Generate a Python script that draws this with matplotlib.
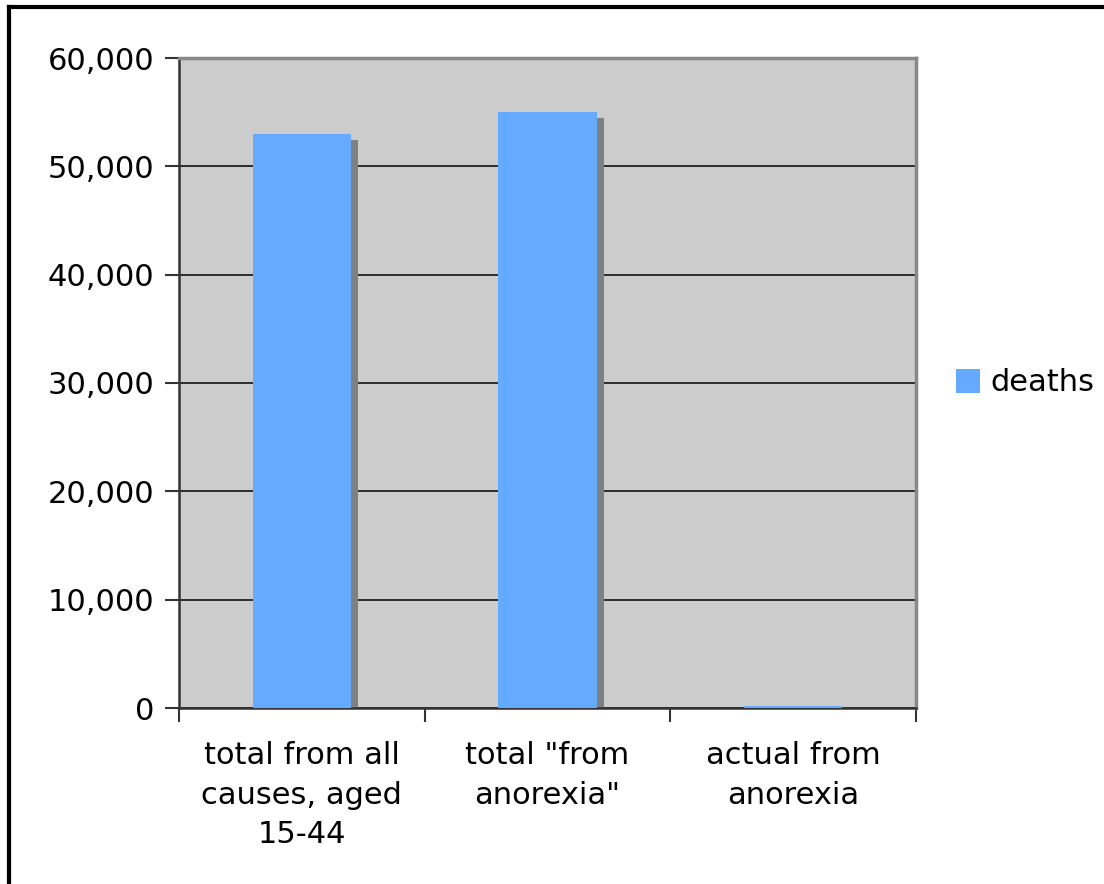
import matplotlib
matplotlib.use('Agg')
from matplotlib import pyplot as plt
from matplotlib.lines import Line2D
from matplotlib.ticker import FuncFormatter, MultipleLocator

categories = ['total from all\ncauses, aged\n15-44', 'total "from\nanorexia"', 'actual from\nanorexia']
deaths = [53000, 55000, 200]

fig = plt.figure(figsize=(11.04, 8.84), dpi=100)
ax = fig.add_axes([179/1104, 1-708/884, (916-179)/1104, (708-58)/884])
ax.set_facecolor('#cccccc')

x = list(range(len(categories)))
w = 0.4
# shadow bars, offset right and down
dx = 7/246
dy = 6/108.33*10000
ax.bar([i + dx for i in x], [max(d - dy, 0) for d in deaths], width=w,
       color='#808080', zorder=2)
ax.bar(x, deaths, width=w, color='#66aaff', zorder=3, label='deaths')

ax.set_xlim(-0.5, 2.5)
ax.set_ylim(0, 60000)
ax.yaxis.set_major_locator(MultipleLocator(10000))
ax.yaxis.set_major_formatter(FuncFormatter(lambda v, p: f'{int(v):,}'))
ax.grid(axis='y', color='#111111', linewidth=1.2, zorder=1)
ax.set_axisbelow(True)

ax.set_xticks([-0.5, 0.5, 1.5, 2.5])
ax.set_xticklabels([])
ax.set_xticks(x, minor=True)
ax.set_xticklabels(categories, minor=True, fontsize=22, linespacing=1.45)
ax.tick_params(axis='x', which='minor', length=0, pad=24)
ax.tick_params(axis='x', which='major', length=10, width=1.5, direction='out', color='#333333')
ax.tick_params(axis='y', length=10, width=1.5, direction='out', color='#333333',
               labelsize=22, pad=8)

for side in ['top', 'right']:
    ax.spines[side].set_color('#888888')
    ax.spines[side].set_linewidth(2.5)
for side in ['left', 'bottom']:
    ax.spines[side].set_color('#333333')
    ax.spines[side].set_linewidth(1.8)
ax.spines['bottom'].set_zorder(2.5)

fig.legend(loc='center left', bbox_to_anchor=(928/1104, 1-383/884), frameon=False,
           fontsize=22, handlelength=0.8, handleheight=0.8, handletextpad=0.35)

# outer frame (only left and top show, the rest is cut off)
fig.add_artist(Line2D([9/1104, 9/1104], [0, 1-7/884], color='black', linewidth=3,
                      transform=fig.transFigure))
fig.add_artist(Line2D([9/1104, 1], [1-7/884, 1-7/884], color='black', linewidth=3,
                      transform=fig.transFigure))

fig.savefig('out.png', dpi=100, facecolor='white')
